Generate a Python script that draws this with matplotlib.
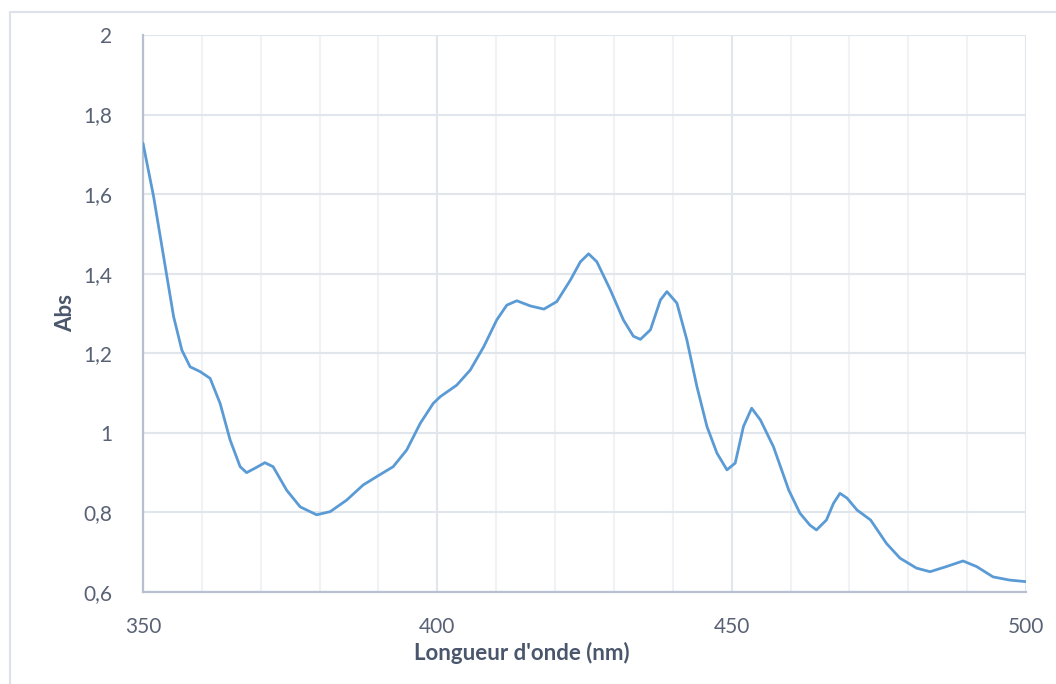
import matplotlib.pyplot as plt
import matplotlib.patches as patches
from matplotlib.ticker import MultipleLocator, FuncFormatter

# wavelength (nm) and absorbance
wavelength = [350, 351.8, 353.5, 355.2, 356.6, 358.0, 359.7, 361.4, 363.1, 364.8,
              366.5, 367.6, 369.0, 370.7, 372.1, 374.4, 376.7, 379.5, 381.8, 384.6,
              387.4, 389.7, 392.5, 394.8, 397.1, 399.3, 400.5, 403.3, 405.6, 407.9,
              410.1, 411.8, 413.5, 415.8, 418.1, 420.3, 422.6, 424.3, 425.7, 427.1,
              429.4, 431.6, 433.3, 434.5, 436.2, 437.9, 439.0, 440.7, 442.4, 444.1,
              445.8, 447.5, 449.2, 450.6, 452.0, 453.4, 454.9, 457.1, 459.7, 461.6,
              463.3, 464.4, 466.1, 467.3, 468.4, 469.6, 471.3, 473.6, 476.3, 478.6,
              481.4, 483.7, 486.5, 489.3, 491.6, 494.4, 497.2, 500]
absorbance = [1.728, 1.594, 1.443, 1.292, 1.208, 1.166, 1.154, 1.137, 1.074, 0.982,
              0.915, 0.900, 0.911, 0.925, 0.915, 0.856, 0.814, 0.794, 0.802, 0.831,
              0.869, 0.890, 0.915, 0.957, 1.024, 1.074, 1.091, 1.120, 1.158, 1.217,
              1.284, 1.321, 1.332, 1.319, 1.311, 1.330, 1.384, 1.430, 1.450, 1.430,
              1.359, 1.284, 1.243, 1.235, 1.259, 1.334, 1.355, 1.326, 1.233, 1.116,
              1.016, 0.949, 0.907, 0.924, 1.016, 1.062, 1.032, 0.965, 0.856, 0.798,
              0.768, 0.756, 0.781, 0.823, 0.848, 0.836, 0.806, 0.781, 0.722, 0.685,
              0.660, 0.651, 0.664, 0.678, 0.664, 0.638, 0.630, 0.626]

plt.rcParams['font.family'] = ['Lato', 'DejaVu Sans']

fig = plt.figure(figsize=(10.56, 6.84), dpi=100)
ax = fig.add_axes([143 / 1056, 92 / 684, 883 / 1056, 557 / 684])

# outer chart frame
fig.patches.append(patches.Rectangle((10 / 1056, -0.1), 1.2, 0.1 + (684 - 12) / 684,
                                     transform=fig.transFigure, fill=False,
                                     edgecolor='#dde2ea', linewidth=1.5, zorder=0))

ax.plot(wavelength, absorbance, color='#5b9bd5', linewidth=2.0, solid_capstyle='round',
        solid_joinstyle='round', zorder=3)

ax.set_xlim(350, 500)
ax.set_ylim(0.6, 2)
ax.xaxis.set_major_locator(MultipleLocator(50))
ax.xaxis.set_minor_locator(MultipleLocator(10))
ax.yaxis.set_major_locator(MultipleLocator(0.2))
ax.yaxis.set_major_formatter(FuncFormatter(lambda v, p: ('%g' % round(v, 1)).replace('.', ',')))

ax.grid(which='major', color='#e1e5ec', linewidth=1.5, zorder=0)
ax.grid(which='minor', axis='x', color='#f0f2f5', linewidth=1.5, zorder=0)
ax.set_axisbelow(True)

for s in ['top', 'right']:
    ax.spines[s].set_visible(False)
for s in ['left', 'bottom']:
    ax.spines[s].set_color('#b6c0d0')
    ax.spines[s].set_linewidth(1.6)

ax.tick_params(which='both', length=0, labelsize=15, labelcolor='#596275')
ax.tick_params(axis='x', pad=18)
ax.tick_params(axis='y', pad=22)

fig.text(522 / 1056, 1 - 653 / 684, "Longueur d'onde (nm)", ha='center', va='center',
         fontsize=16, fontweight='bold', color='#4a566b')
fig.text(66 / 1056, 1 - 313 / 684, 'Abs', ha='center', va='center', rotation=90,
         fontsize=16, fontweight='bold', color='#4a566b')

fig.savefig('out.png', dpi=100)
